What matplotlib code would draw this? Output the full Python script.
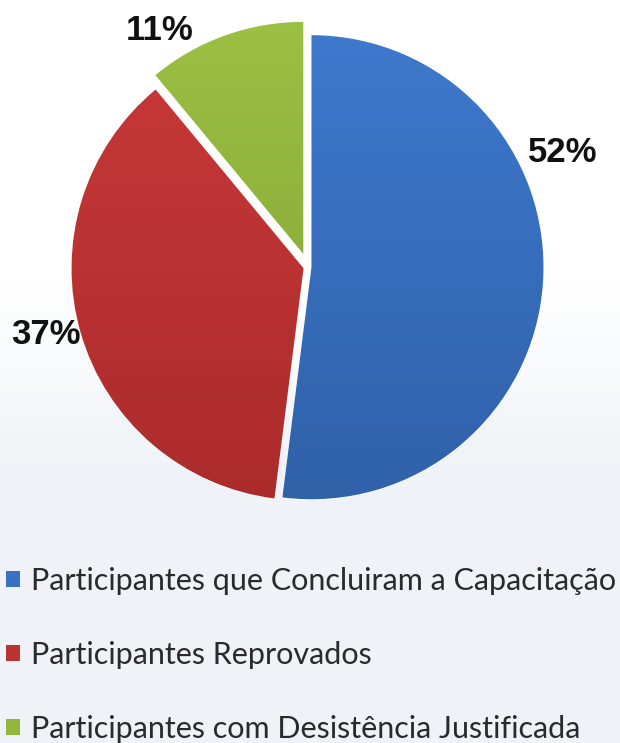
import matplotlib.pyplot as plt
import numpy as np
from matplotlib.patches import Patch

labels = ["Participantes que Concluiram a Capacitação",
          "Participantes Reprovados",
          "Participantes com Desistência Justificada"]
values = [52, 37, 11]
colors = ["#3a72c2", "#bb3434", "#92b53c"]
dark = ["#2f5fa6", "#a82a2a", "#7b9e33"]
light = ["#3f7bd0", "#cc3a3a", "#9dc243"]
explode = [0.015, 0.02, 0.06]

fig = plt.figure(figsize=(6.2, 7.43), dpi=100)

# background gradient
bg = fig.add_axes([0, 0, 1, 1])
g = np.linspace(0, 1, 300)
g = np.clip((g - 0.38) / 0.25, 0, 1)[:, None]
top = np.array([1.0, 1.0, 1.0])
bot = np.array([0.94, 0.955, 0.97])
img = top + (bot - top) * g[:, :, None]
bg.imshow(img, aspect="auto", extent=[0, 1, 0, 1])
bg.axis("off")

# pie: radius 232 px, centre at (308, 267) px from top-left
r = 232
ax = fig.add_axes([0, (743 - 520) / 743, 1, 520 / 743])
wedges, _ = ax.pie(values, colors=colors, explode=explode, startangle=90,
                   counterclock=False, radius=1,
                   wedgeprops=dict(edgecolor="white", linewidth=1))
ax.set_aspect("equal")
ax.axis("off")

# vertical shading clipped to each wedge
for w, c1, c2 in zip(wedges, light, dark):
    t = np.linspace(0, 1, 200)[:, None]
    a = np.array(plt.matplotlib.colors.to_rgb(c1))
    b = np.array(plt.matplotlib.colors.to_rgb(c2))
    shade = a + (b - a) * t[:, :, None]
    im = ax.imshow(shade, extent=[-1.2, 1.2, -1.2, 1.2], aspect="auto", zorder=2)
    im.set_clip_path(w)
ax.set_xlim(-308 / r, 312 / r)
ax.set_ylim(-(520 - 267) / r, 267 / r)

# percentage labels (Excel best-fit placement)
pct_pos = [(563, 153), (46, 334), (160, 31)]
for v, (px, py) in zip(values, pct_pos):
    ax.text((px - 308) / r, (267 - py) / r, f"{v}%", ha="center", va="center",
            fontsize=25, fontweight="bold", family="Liberation Sans",
            color="#111111", zorder=5)

handles = [Patch(facecolor=c, edgecolor="none") for c in colors]
fig.legend(handles, labels, loc="upper left", bbox_to_anchor=(0.0, 1 - 561 / 743),
           frameon=False, prop=dict(family="Lato", size=22),
           labelcolor="#2a2a2a",
           handlelength=0.45, handleheight=0.45, handletextpad=0.35,
           labelspacing=1.5, borderaxespad=0, borderpad=0.2)

plt.savefig("out.png", dpi=100)
